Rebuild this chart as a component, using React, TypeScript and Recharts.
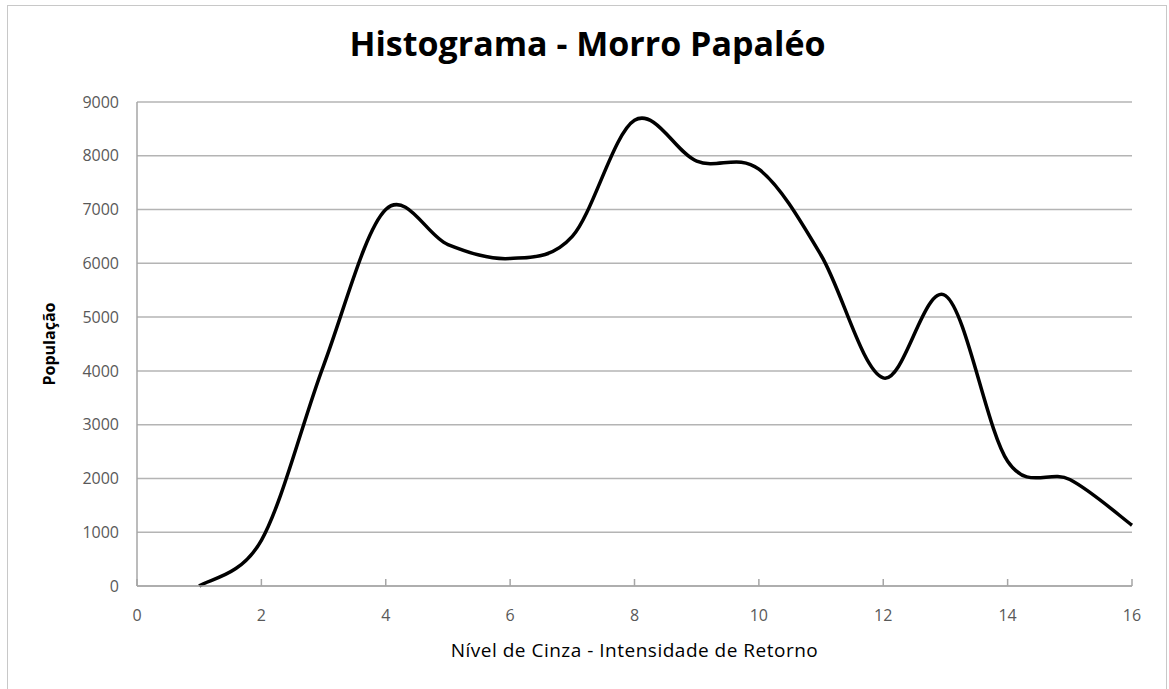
import {
  LineChart, Line, XAxis, YAxis, CartesianGrid, Label,
} from 'recharts';

// Nível de cinza (x) e população (y)
const levels = [1, 2, 3, 4, 5, 6, 7, 8, 9, 10, 11, 12, 13, 14, 15, 16];
const population = [0, 850, 4100, 7000, 6350, 6090, 6500, 8660, 7900, 7750, 6150, 3870, 5400, 2320, 1980, 1130];
const xTicks = [0, 2, 4, 6, 8, 10, 12, 14, 16];
const yTicks = [0, 1000, 2000, 3000, 4000, 5000, 6000, 7000, 8000, 9000];

const data = levels.map((x, i) => ({ x, y: population[i] }));

// Excel-style smoothed line (Catmull-Rom through every point)
type Ctx = { moveTo(x: number, y: number): void; bezierCurveTo(a: number, b: number, c: number, d: number, e: number, f: number): void };
const smoothCurve = (context: Ctx) => {
  let pts: [number, number][] = [];
  return {
    areaStart() {},
    areaEnd() {},
    lineStart() { pts = []; },
    point(x: number, y: number) { pts.push([+x, +y]); },
    lineEnd() {
      if (!pts.length) return;
      context.moveTo(pts[0][0], pts[0][1]);
      for (let i = 0; i < pts.length - 1; i++) {
        const p0 = pts[i - 1] ?? pts[i];
        const p1 = pts[i];
        const p2 = pts[i + 1];
        const p3 = pts[i + 2] ?? p2;
        context.bezierCurveTo(
          p1[0] + (p2[0] - p0[0]) / 6, p1[1] + (p2[1] - p0[1]) / 6,
          p2[0] - (p3[0] - p1[0]) / 6, p2[1] - (p3[1] - p1[1]) / 6,
          p2[0], p2[1],
        );
      }
    },
  };
};

const font = '"Open Sans", sans-serif';
const tickStyle = { fill: '#595959', fontSize: 16, fontFamily: font };

export default function App() {
  return (
    <div style={{ position: 'absolute', left: 0, top: 0, width: 1169, height: 689, background: '#fff' }}>
      <div style={{
        position: 'absolute', left: 7, top: 5, width: 1160, height: 690,
        border: '1px solid #c8c8c8', boxSizing: 'border-box',
      }} />
      <div style={{
        position: 'absolute', left: 0, top: 20, width: 1175, textAlign: 'center',
        fontFamily: font, fontWeight: 700, fontSize: 34, color: '#000',
      }}>
        Histograma - Morro Papaléo
      </div>
      <div style={{ position: 'absolute', left: 0, top: 0 }}>
        <LineChart width={1169} height={689} data={data}
          margin={{ top: 102, right: 37, bottom: 23, left: 27 }}>
          <CartesianGrid stroke="#b4b4b4" strokeWidth={1.5} vertical={false} />
          <XAxis
            dataKey="x"
            type="number"
            domain={[0, 16]}
            ticks={xTicks}
            tick={tickStyle}
            stroke="#a6a6a6"
            strokeWidth={1.5}
            tickSize={-7}
            tickMargin={31}
            height={80}
          >
            <Label value="Nível de Cinza - Intensidade de Retorno" position="insideBottom" offset={9}
              style={{ fill: '#000', fontSize: 19, letterSpacing: 0.5, fontFamily: font }} />
          </XAxis>
          <YAxis
            type="number"
            domain={[0, 9000]}
            ticks={yTicks}
            tick={tickStyle}
            stroke="#a6a6a6"
            strokeWidth={1.5}
            tickLine={false}
            tickSize={0}
            tickMargin={18}
            width={110}
          >
            <Label value="População" angle={-90} position="insideLeft" offset={22}
              style={{ fill: '#000', fontSize: 16, fontWeight: 700, fontFamily: font, textAnchor: 'middle' }} />
          </YAxis>
          <Line
            dataKey="y"
            type={smoothCurve as any}
            stroke="#000"
            strokeWidth={3.5}
            dot={false}
            isAnimationActive={false}
          />
        </LineChart>
      </div>
    </div>
  );
}
